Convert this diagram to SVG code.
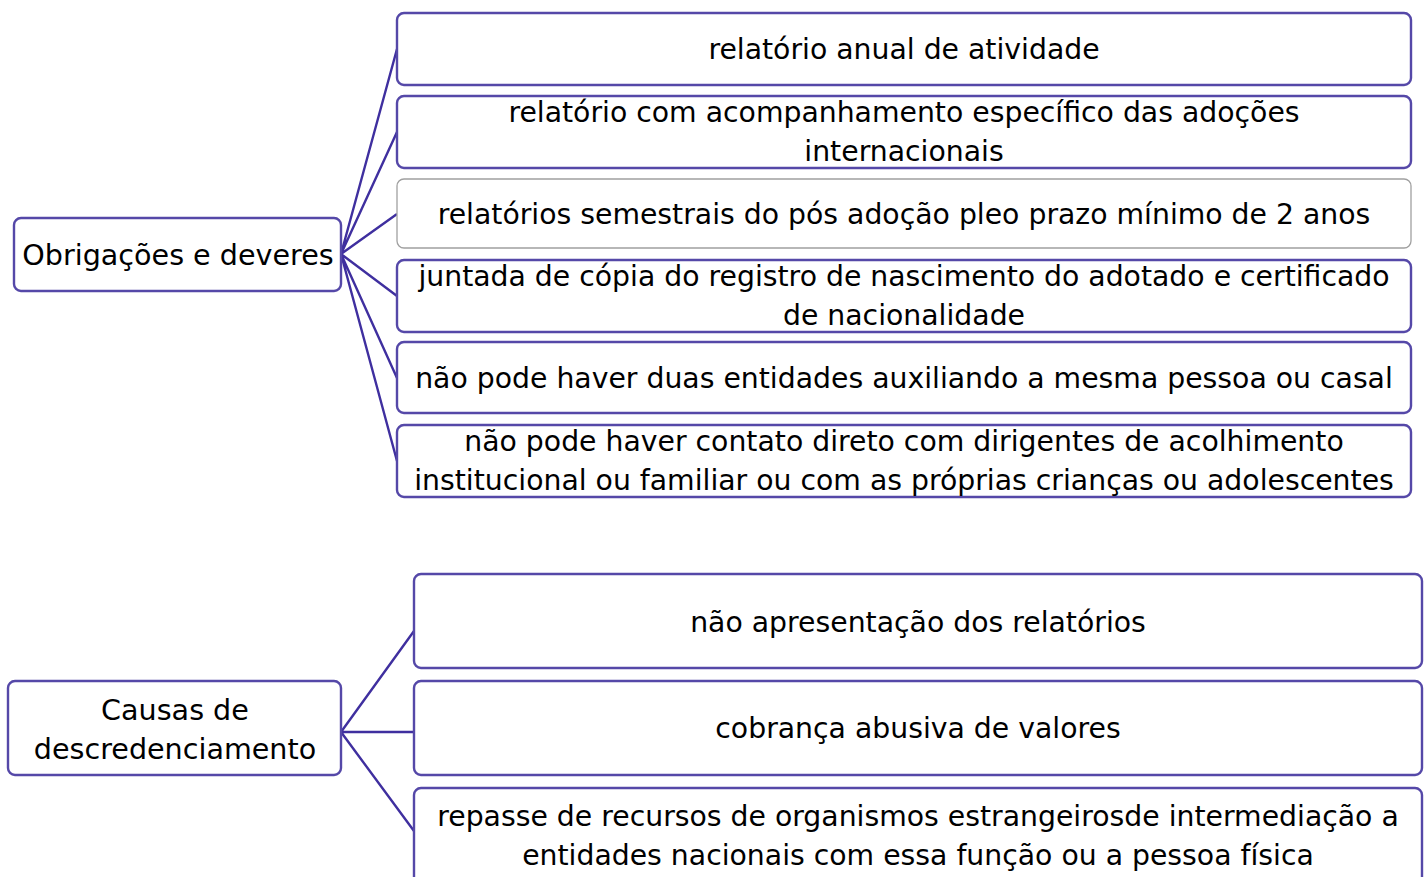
<svg xmlns="http://www.w3.org/2000/svg" width="1427" height="877" viewBox="0 0 1427 877">
<style>
.b{fill:#fff;stroke:#5548a8;stroke-width:2.4}
.g{fill:#fff;stroke:#a0a0a0;stroke-width:1.3}
.t{font-family:"DejaVu Sans","Noto Sans",sans-serif;font-size:28.3px;fill:#000;text-anchor:middle}
.h{font-size:28.6px}
.c{stroke:#3f2f9f;stroke-width:2.4;fill:none}
</style>
<rect width="1427" height="877" fill="#fff"/>
<g id="connectors">
<path class="c" d="M341 254L397 49M341 254L397 132M341 254L397 214M341 254L397 296M341 254L397 378M341 254L397 461"/>
<path class="c" d="M341 732L414 631M341 732L414 732M341 732L414 831"/>
</g>
<g id="obrigacoes"><rect class="b" x="14" y="218" width="327" height="73" rx="7"/><text class="t h" x="178" y="265">Obrigações e deveres</text></g>
<g id="n1"><rect class="b" x="397" y="13" width="1014" height="72" rx="7"/><text class="t" x="904" y="59">relatório anual de atividade</text></g>
<g id="n2"><rect class="b" x="397" y="96" width="1014" height="72" rx="7"/><text class="t" x="904" y="122">relatório com acompanhamento específico das adoções</text><text class="t" x="904" y="161">internacionais</text></g>
<g id="n3"><rect class="g" x="397" y="179" width="1014" height="69" rx="7"/><text class="t" x="904" y="224">relatórios semestrais do pós adoção pleo prazo mínimo de 2 anos</text></g>
<g id="n4"><rect class="b" x="397" y="260" width="1014" height="72" rx="7"/><text class="t" x="904" y="286">juntada de cópia do registro de nascimento do adotado e certificado</text><text class="t" x="904" y="325">de nacionalidade</text></g>
<g id="n5"><rect class="b" x="397" y="342" width="1014" height="71" rx="7"/><text class="t" x="904" y="388">não pode haver duas entidades auxiliando a mesma pessoa ou casal</text></g>
<g id="n6"><rect class="b" x="397" y="425" width="1014" height="72" rx="7"/><text class="t" x="904" y="451">não pode haver contato direto com dirigentes de acolhimento</text><text class="t" x="904" y="490">institucional ou familiar ou com as próprias crianças ou adolescentes</text></g>
<g id="causas"><rect class="b" x="8" y="681" width="333" height="94" rx="7"/><text class="t h" x="175" y="720">Causas de</text><text class="t h" x="175" y="759">descredenciamento</text></g>
<g id="m1"><rect class="b" x="414" y="574" width="1008" height="94" rx="7"/><text class="t" x="918" y="632">não apresentação dos relatórios</text></g>
<g id="m2"><rect class="b" x="414" y="681" width="1008" height="94" rx="7"/><text class="t" x="918" y="738">cobrança abusiva de valores</text></g>
<g id="m3"><rect class="b" x="414" y="788" width="1008" height="100" rx="7"/><text class="t" x="918" y="826">repasse de recursos de organismos estrangeirosde intermediação a</text><text class="t" x="918" y="865">entidades nacionais com essa função ou a pessoa física</text></g>
</svg>
